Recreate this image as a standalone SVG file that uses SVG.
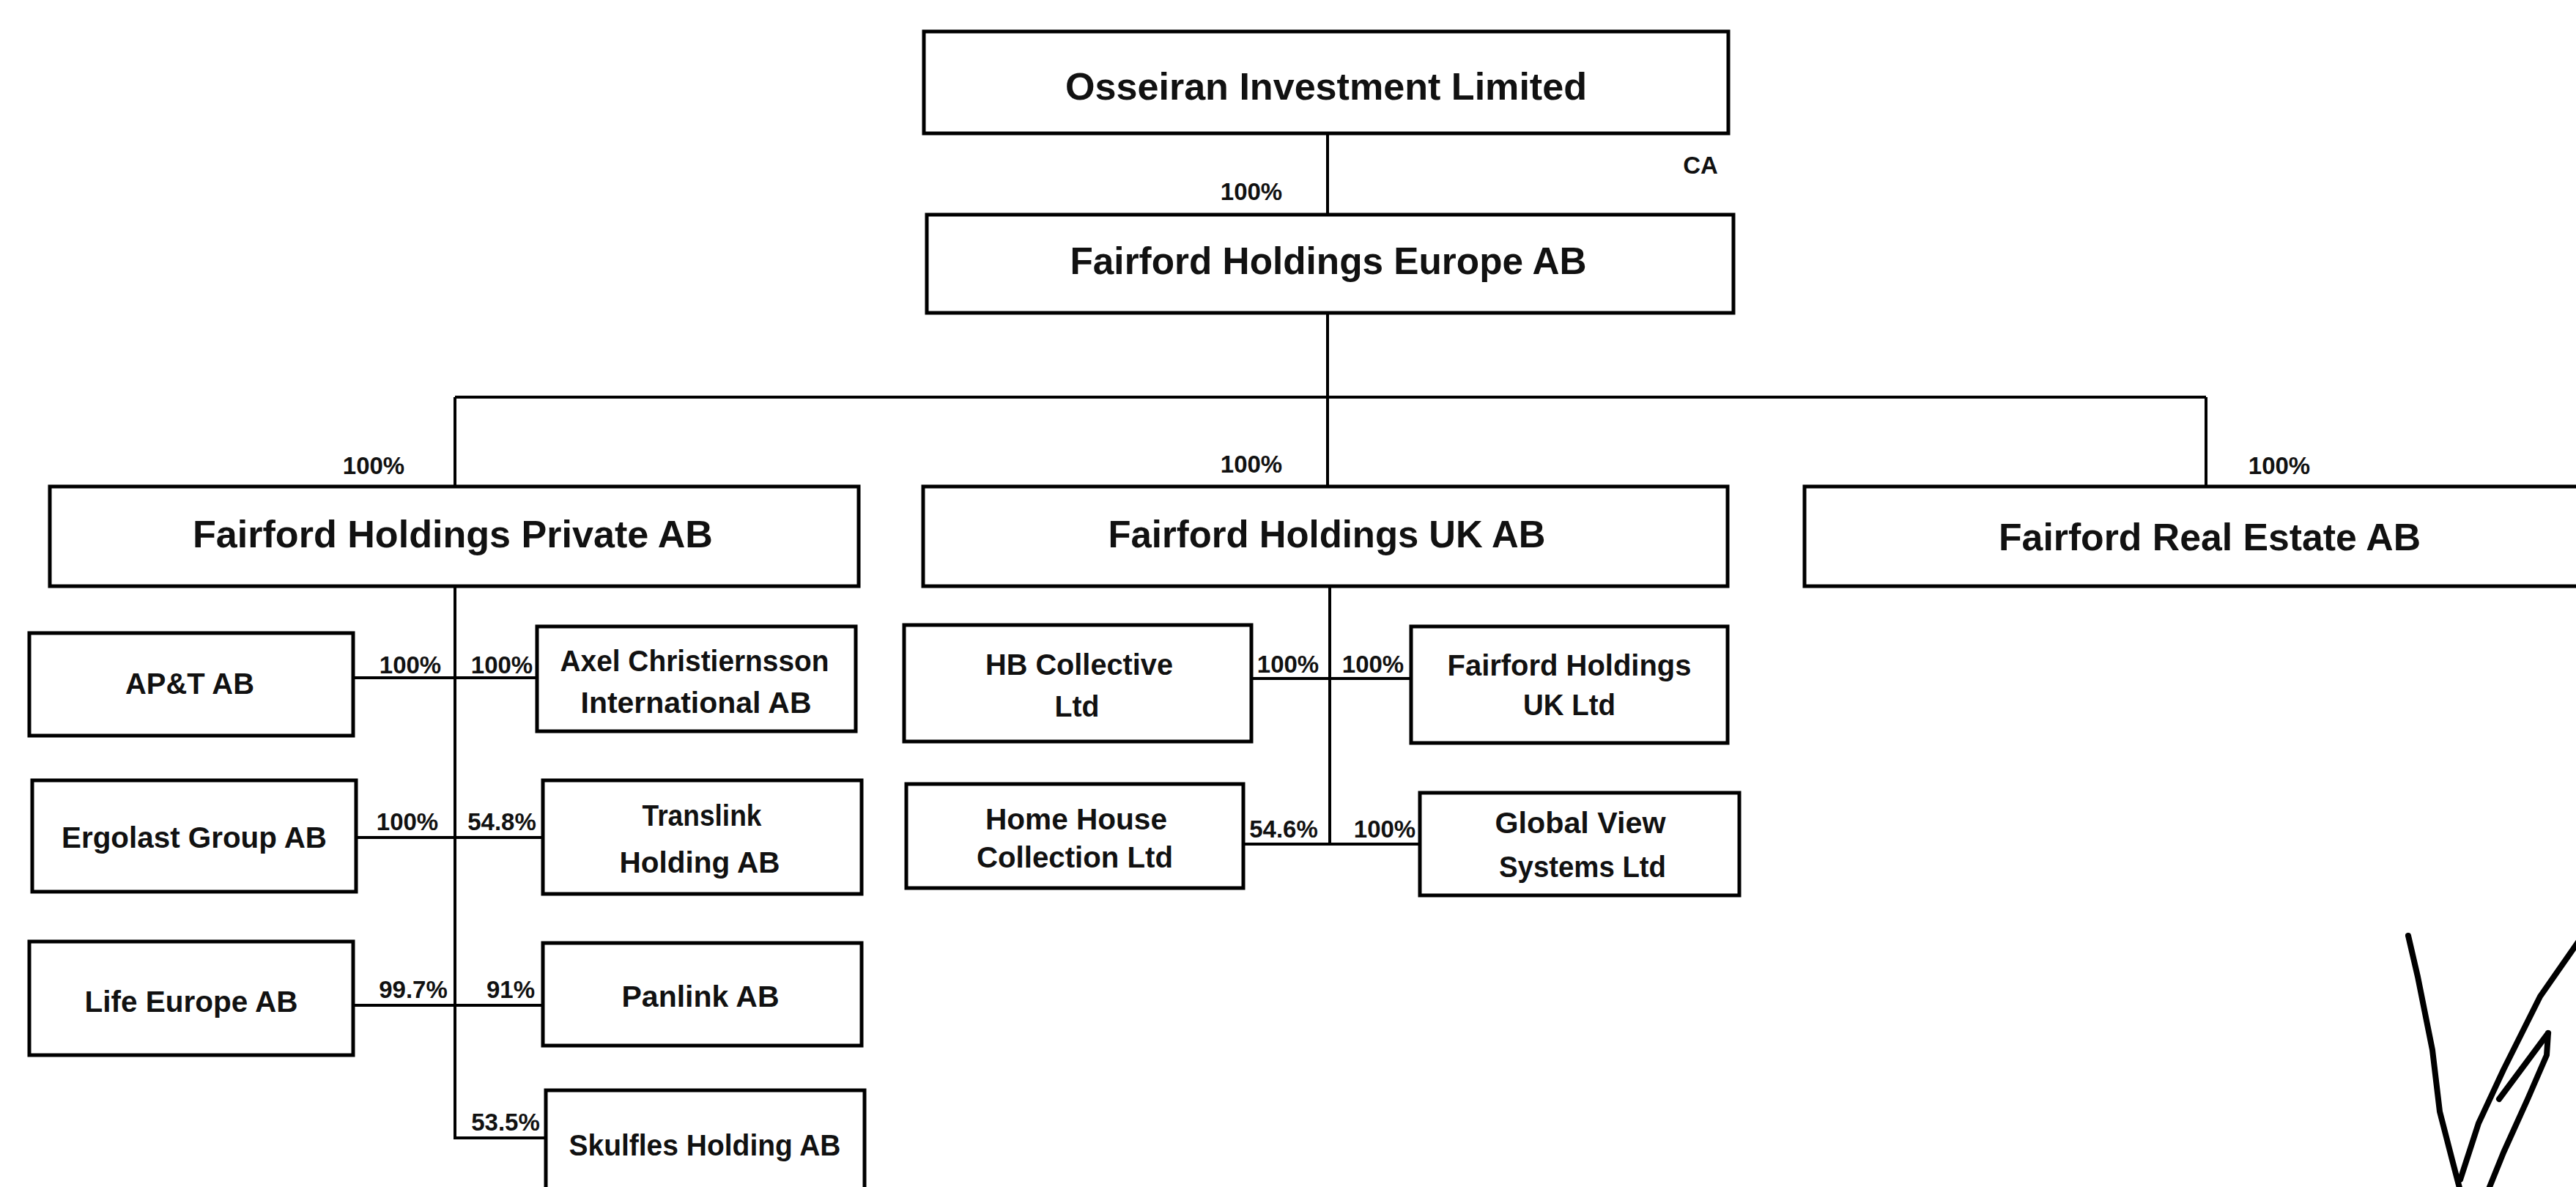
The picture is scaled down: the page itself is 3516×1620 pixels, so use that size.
<svg xmlns="http://www.w3.org/2000/svg" width="3516" height="1620" viewBox="0 0 3516 1620">
  <style>
    .box { fill: #ffffff; stroke: #000000; stroke-width: 5; }
    .ln { fill: none; stroke: #000000; stroke-width: 4; }
    .sig { fill: none; stroke: #000000; stroke-width: 8; stroke-linecap: round; stroke-linejoin: round; }
    text { font-family: "Liberation Sans", Arial, sans-serif; font-weight: bold; fill: #111111; text-anchor: middle; }
    .t1 { font-size: 52px; }
    .t2 { font-size: 40px; }
    .lb { font-size: 33px; }
  </style>
  <rect x="0" y="0" width="3516" height="1620" fill="#ffffff"/>

  <g id="connectors">
    <path class="ln" d="M1812 182 V293"/>
    <path class="ln" d="M1812 427 V542"/>
    <path class="ln" d="M621 542 H3011"/>
    <path class="ln" d="M621 542 V664"/>
    <path class="ln" d="M1812 542 V664"/>
    <path class="ln" d="M3011 542 V664"/>
    <path class="ln" d="M621 800 V1553 H745"/>
    <path class="ln" d="M482 925 H733"/>
    <path class="ln" d="M486 1143 H741"/>
    <path class="ln" d="M482 1372 H741"/>
    <path class="ln" d="M1815 800 V1152"/>
    <path class="ln" d="M1708 926 H1926"/>
    <path class="ln" d="M1697 1152 H1938"/>
  </g>

  <g id="labels">
    <text class="lb" x="1708" y="273">100%</text>
    <text class="lb" x="2321" y="237">CA</text>
    <text class="lb" x="510" y="647">100%</text>
    <text class="lb" x="1708" y="645">100%</text>
    <text class="lb" x="3111" y="647">100%</text>
    <text class="lb" x="560" y="919">100%</text>
    <text class="lb" x="685" y="919">100%</text>
    <text class="lb" x="556" y="1133">100%</text>
    <text class="lb" x="685" y="1133">54.8%</text>
    <text class="lb" x="564" y="1362">99.7%</text>
    <text class="lb" x="697" y="1362">91%</text>
    <text class="lb" x="690" y="1543">53.5%</text>
    <text class="lb" x="1758" y="918">100%</text>
    <text class="lb" x="1874" y="918">100%</text>
    <text class="lb" x="1752" y="1143">54.6%</text>
    <text class="lb" x="1890" y="1143">100%</text>
  </g>

  <g id="n-osseiran">
    <rect class="box" x="1261" y="43" width="1098" height="139"/>
    <text class="t1" x="1810" y="136" textLength="712" lengthAdjust="spacingAndGlyphs">Osseiran Investment Limited</text>
  </g>
  <g id="n-europe">
    <rect class="box" x="1265" y="293" width="1101" height="134"/>
    <text class="t1" x="1813" y="374" textLength="705" lengthAdjust="spacingAndGlyphs">Fairford Holdings Europe AB</text>
  </g>
  <g id="n-private">
    <rect class="box" x="68" y="664" width="1104" height="136"/>
    <text class="t1" x="618" y="747" textLength="710" lengthAdjust="spacingAndGlyphs">Fairford Holdings Private AB</text>
  </g>
  <g id="n-uk">
    <rect class="box" x="1260" y="664" width="1098" height="136"/>
    <text class="t1" x="1811" y="747" textLength="597" lengthAdjust="spacingAndGlyphs">Fairford Holdings UK AB</text>
  </g>
  <g id="n-realestate">
    <rect class="box" x="2463" y="664" width="1100" height="136"/>
    <text class="t1" x="3016" y="751" textLength="576" lengthAdjust="spacingAndGlyphs">Fairford Real Estate AB</text>
  </g>

  <g id="n-apt">
    <rect class="box" x="40" y="864" width="442" height="140"/>
    <text class="t2" x="259" y="947" textLength="176" lengthAdjust="spacingAndGlyphs">AP&amp;T AB</text>
  </g>
  <g id="n-axel">
    <rect class="box" x="733" y="855" width="435" height="143"/>
    <text class="t2" x="948" y="916" textLength="367" lengthAdjust="spacingAndGlyphs">Axel Christiernsson</text>
    <text class="t2" x="950" y="973" textLength="315" lengthAdjust="spacingAndGlyphs">International AB</text>
  </g>
  <g id="n-ergolast">
    <rect class="box" x="44" y="1065" width="442" height="152"/>
    <text class="t2" x="265" y="1157" textLength="362" lengthAdjust="spacingAndGlyphs">Ergolast Group AB</text>
  </g>
  <g id="n-translink">
    <rect class="box" x="741" y="1065" width="435" height="155"/>
    <text class="t2" x="958" y="1127" textLength="163" lengthAdjust="spacingAndGlyphs">Translink</text>
    <text class="t2" x="955" y="1191" textLength="219" lengthAdjust="spacingAndGlyphs">Holding AB</text>
  </g>
  <g id="n-life">
    <rect class="box" x="40" y="1285" width="442" height="155"/>
    <text class="t2" x="261" y="1381" textLength="291" lengthAdjust="spacingAndGlyphs">Life Europe AB</text>
  </g>
  <g id="n-panlink">
    <rect class="box" x="741" y="1287" width="435" height="140"/>
    <text class="t2" x="956" y="1374" textLength="215" lengthAdjust="spacingAndGlyphs">Panlink AB</text>
  </g>
  <g id="n-skulfles">
    <rect class="box" x="745" y="1488" width="435" height="170"/>
    <text class="t2" x="962" y="1577" textLength="371" lengthAdjust="spacingAndGlyphs">Skulfles Holding AB</text>
  </g>

  <g id="n-hb">
    <rect class="box" x="1234" y="853" width="474" height="159"/>
    <text class="t2" x="1473" y="921" textLength="256" lengthAdjust="spacingAndGlyphs">HB Collective</text>
    <text class="t2" x="1470" y="978" textLength="61" lengthAdjust="spacingAndGlyphs">Ltd</text>
  </g>
  <g id="n-fhukltd">
    <rect class="box" x="1926" y="855" width="432" height="159"/>
    <text class="t2" x="2142" y="922" textLength="333" lengthAdjust="spacingAndGlyphs">Fairford Holdings</text>
    <text class="t2" x="2142" y="976" textLength="126" lengthAdjust="spacingAndGlyphs">UK Ltd</text>
  </g>
  <g id="n-homehouse">
    <rect class="box" x="1237" y="1070" width="460" height="142"/>
    <text class="t2" x="1469" y="1132" textLength="248" lengthAdjust="spacingAndGlyphs">Home House</text>
    <text class="t2" x="1467" y="1184" textLength="268" lengthAdjust="spacingAndGlyphs">Collection Ltd</text>
  </g>
  <g id="n-globalview">
    <rect class="box" x="1938" y="1082" width="436" height="140"/>
    <text class="t2" x="2157" y="1137" textLength="233" lengthAdjust="spacingAndGlyphs">Global View</text>
    <text class="t2" x="2160" y="1197" textLength="228" lengthAdjust="spacingAndGlyphs">Systems Ltd</text>
  </g>

  <g id="signature">
    <path class="sig" d="M3287 1277 L3300 1333 L3320 1433 L3330 1517 L3347 1583 L3358 1625"/>
    <path class="sig" d="M3520 1284 L3467 1360 L3417 1460 L3383 1533 L3358 1610"/>
    <path class="sig" d="M3478 1410 L3411 1500"/>
    <path class="sig" d="M3478 1410 L3476 1440 L3450 1500 L3417 1573 L3396 1625"/>
  </g>
</svg>
